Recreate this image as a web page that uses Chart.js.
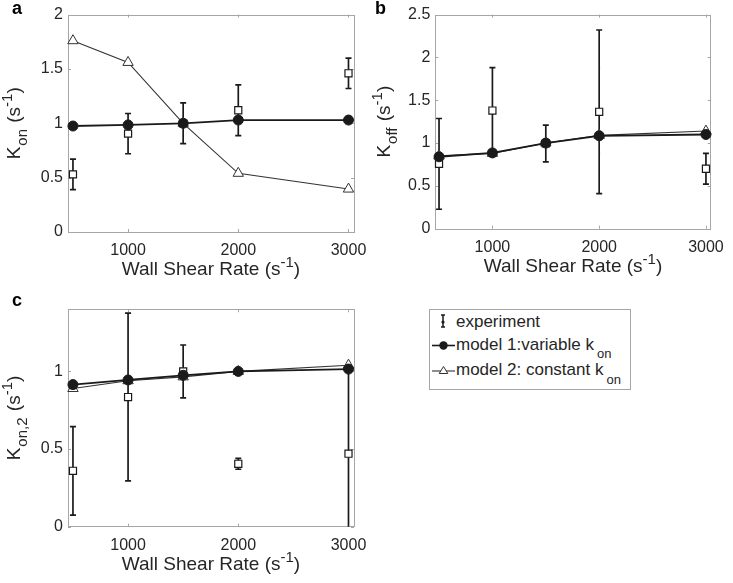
<!DOCTYPE html>
<html>
<head>
<meta charset="utf-8">
<title>Rate constants vs wall shear rate</title>
<script src="https://cdn.jsdelivr.net/npm/chart.js@4.4.1/dist/chart.umd.min.js"></script>
<style>
    html, body { margin: 0; padding: 0; background: #fff; }
    #stage { position: relative; width: 733px; height: 583px; overflow: hidden; }
    #stage canvas { position: absolute; }
    #legend { position: absolute; left: 429px; top: 309px; }
    #legend text { font-family: 'Liberation Sans', Arial, sans-serif; font-size: 17px; fill: #262626; }
</style>
</head>
<body>
<div id="stage">
    <canvas id="panelA" width="380" height="290" style="left:0;top:0"></canvas>
    <canvas id="panelB" width="363" height="290" style="left:370px;top:0"></canvas>
    <canvas id="panelC" width="380" height="293" style="left:0;top:290px"></canvas>

    <!-- legend (shared by all three panels) -->
    <svg id="legend" width="203" height="82">
        <rect x="0.5" y="0.5" width="201" height="80" fill="#fff" stroke="#a6a6a6"/>
        <g stroke="#1a1a1a" stroke-width="1.5" fill="none">
            <line x1="14" y1="6" x2="14" y2="18"/>
            <line x1="12" y1="6" x2="16" y2="6"/>
            <line x1="12" y1="18" x2="16" y2="18"/>
        </g>
        <circle cx="14" cy="13" r="1.6" fill="#1a1a1a"/>
        <text x="27" y="18">experiment</text>

        <line x1="3" y1="36.5" x2="26" y2="36.5" stroke="#1a1a1a" stroke-width="1.6"/>
        <circle cx="14.5" cy="36.5" r="4.2" fill="#1a1a1a"/>
        <text x="27" y="41">model 1:variable k<tspan dx="3" dy="8" style="font-size:13px">on</tspan></text>

        <line x1="3" y1="62" x2="26" y2="62" stroke="#333" stroke-width="1.1"/>
        <polygon points="14.5,57.5 18.8,64.5 10.2,64.5" fill="#fff" stroke="#333" stroke-width="1"/>
        <text x="27" y="66">model 2: constant k<tspan dx="3" dy="9" style="font-size:13px">on</tspan></text>
    </svg>
</div>

<script>
'use strict';

// ============================================================
// Data
// ============================================================

const shearRates = [500, 1000, 1500, 2000, 3000];   // wall shear rate (1/s)
const xTicks = [1000, 2000, 3000];

// (a) K_on
const konExp    = [0.53, 0.905, 1.00, 1.12, 1.46];
const konExpErr = [0.14, 0.185, 0.187, 0.233, 0.14];
const konModel1 = [0.975, 0.985, 1.00, 1.03, 1.03];
const konModel2 = [1.76, 1.56, 1.00, 0.54, 0.395];
const konTicks  = [0, 0.5, 1, 1.5, 2];

// (b) K_off
const koffExp    = [0.757, 1.38, 0.995, 1.365, 0.70];
const koffExpErr = [0.53, 0.50, 0.215, 0.955, 0.18];
const koffModel1 = [0.84, 0.885, 1.00, 1.085, 1.10];
const koffModel2 = [0.85, 0.88, 1.00, 1.09, 1.14];
const koffTicks  = [0, 0.5, 1, 1.5, 2, 2.5];

// (c) K_on,2
const kon2Exp    = [0.36, 0.835, 1.00, 0.405, 0.47];
const kon2ExpErr = [0.285, 0.54, 0.17, 0.035, 0.55];
const kon2Model1 = [0.915, 0.945, 0.975, 1.00, 1.015];
const kon2Model2 = [0.89, 0.94, 0.965, 1.00, 1.04];
const kon2Ticks  = [0, 0.5, 1];

// ============================================================
// Style
// ============================================================

const FONT = "'Liberation Sans', Arial, sans-serif";
const TEXT = '#262626';
const INK = '#1a1a1a';
const FRAME = '#a6a6a6';
const TICK_SIZE = 16;
const TITLE_SIZE = 19;

const xTitle = [['Wall Shear Rate (s'], ['-1', 'sup'], [')']];

// draw a label with sub/superscripts, centred on (x, y) baseline
function drawRich(ctx, parts, x, y, size, angle) {
    ctx.save();
    ctx.translate(x, y);
    ctx.rotate(angle || 0);
    let total = 0;
    const items = parts.map(([t, kind]) => {
        const fs = kind ? Math.round(size * 0.78) : size;
        ctx.font = fs + 'px ' + FONT;
        const w = ctx.measureText(t).width + (kind === 'sub' ? 2 : 0);
        total += w;
        return { t, kind, fs, w };
    });
    let cx = -total / 2;
    ctx.fillStyle = TEXT;
    ctx.textAlign = 'left';
    ctx.textBaseline = 'alphabetic';
    items.forEach(it => {
        ctx.font = it.fs + 'px ' + FONT;
        let dy = 0;
        if (it.kind === 'sub') dy = size * 0.38;
        if (it.kind === 'sup') dy = -size * 0.42;
        ctx.fillText(it.t, cx + (it.kind === 'sub' ? 1 : 0), dy);
        cx += it.w;
    });
    ctx.restore();
}

// frame, inner ticks and error bars behind the markers
const matlabAxesPlugin = {
    id: 'matlabAxes',
    beforeDatasetsDraw(chart) {
        const { ctx, chartArea: a, scales: { x, y } } = chart;
        ctx.save();
        ctx.strokeStyle = FRAME;
        ctx.lineWidth = 1;
        ctx.strokeRect(Math.round(a.left) + 0.5, Math.round(a.top) + 0.5,
            Math.round(a.right - a.left), Math.round(a.bottom - a.top));
        ctx.beginPath();
        x.ticks.forEach(t => {
            const px = Math.round(x.getPixelForValue(t.value)) + 0.5;
            ctx.moveTo(px, a.bottom); ctx.lineTo(px, a.bottom - 3);
            ctx.moveTo(px, a.top); ctx.lineTo(px, a.top + 3);
        });
        y.ticks.forEach(t => {
            const py = Math.round(y.getPixelForValue(t.value)) + 0.5;
            ctx.moveTo(a.left, py); ctx.lineTo(a.left + 3, py);
            ctx.moveTo(a.right, py); ctx.lineTo(a.right - 3, py);
        });
        ctx.stroke();

        // error bars
        ctx.beginPath();
        ctx.rect(a.left, a.top, a.right - a.left, a.bottom - a.top);
        ctx.clip();
        ctx.strokeStyle = INK;
        ctx.lineWidth = 1.7;
        ctx.beginPath();
        chart.data.datasets.forEach(ds => {
            if (!ds.errors) return;
            ds.data.forEach((p, i) => {
                const px = x.getPixelForValue(p.x);
                const top = y.getPixelForValue(p.y + ds.errors[i]);
                const bot = y.getPixelForValue(p.y - ds.errors[i]);
                ctx.moveTo(px, top); ctx.lineTo(px, bot);
                ctx.moveTo(px - 3, top); ctx.lineTo(px + 3, top);
                ctx.moveTo(px - 3, bot); ctx.lineTo(px + 3, bot);
            });
        });
        ctx.stroke();
        ctx.restore();
    },
    afterDraw(chart, args, opts) {
        const { ctx, chartArea: a } = chart;
        drawRich(ctx, xTitle, (a.left + a.right) / 2, a.bottom + 43, TITLE_SIZE, 0);
        drawRich(ctx, opts.yTitle, opts.yTitleX, (a.top + a.bottom) / 2, TITLE_SIZE, -Math.PI / 2);
        ctx.save();
        ctx.font = 'bold 18px ' + FONT;
        ctx.fillStyle = '#000';
        ctx.fillText(opts.label, opts.labelPos[0], opts.labelPos[1]);
        ctx.restore();
    }
};

function points(values) {
    return shearRates.map((x, i) => ({ x: x, y: values[i] }));
}

// plain MATLAB-like tick text: 1000, 0.5, 1
const plainTick = v => String(v);

function makePanel(id, p) {
    return new Chart(document.getElementById(id), {
        type: 'scatter',
        data: {
            datasets: [
                {   // model 1 (drawn on top)
                    data: points(p.model1),
                    showLine: true,
                    borderColor: INK,
                    borderWidth: 1.8,
                    pointStyle: 'circle',
                    pointRadius: 5,
                    pointBackgroundColor: INK,
                    pointBorderColor: INK,
                    pointBorderWidth: 1,
                    clip: false
                },
                {   // model 2
                    data: points(p.model2),
                    showLine: true,
                    borderColor: '#333',
                    borderWidth: 1.1,
                    pointStyle: 'triangle',
                    pointRadius: 6,
                    pointBackgroundColor: '#fff',
                    pointBorderColor: '#333',
                    pointBorderWidth: 1,
                    clip: false
                },
                {   // experiment
                    data: points(p.exp),
                    errors: p.err,
                    showLine: false,
                    pointStyle: 'rect',
                    pointRadius: 5,
                    pointBackgroundColor: '#fff',
                    pointBorderColor: INK,
                    pointBorderWidth: 1.2,
                    clip: false
                }
            ]
        },
        options: {
            responsive: false,
            animation: false,
            layout: { padding: { top: p.padTop, right: p.padRight, left: 0, bottom: 0 } },
            plugins: {
                legend: { display: false },
                tooltip: { enabled: false },
                matlabAxes: { yTitle: p.yTitle, yTitleX: p.yTitleX, label: p.label, labelPos: p.labelPos }
            },
            scales: {
                x: {
                    type: 'linear',
                    min: p.xMin,
                    max: p.xMax,
                    afterBuildTicks: s => { s.ticks = xTicks.map(v => ({ value: v })); },
                    afterFit: s => { s.height = p.xAxisHeight; },
                    grid: { display: false, drawTicks: false },
                    border: { display: false },
                    ticks: { padding: 9, color: TEXT, font: { family: FONT, size: TICK_SIZE }, callback: plainTick }
                },
                y: {
                    min: p.yTicks[0],
                    max: p.yMax,
                    afterBuildTicks: s => { s.ticks = p.yTicks.map(v => ({ value: v })); },
                    afterFit: s => { s.width = p.yAxisWidth; },
                    grid: { display: false, drawTicks: false },
                    border: { display: false },
                    ticks: { padding: 5, color: TEXT, font: { family: FONT, size: TICK_SIZE }, callback: plainTick }
                }
            }
        },
        plugins: [matlabAxesPlugin]
    });
}

makePanel('panelA', {
    exp: konExp, err: konExpErr, model1: konModel1, model2: konModel2,
    yTicks: konTicks, yMax: 2,
    xMin: 455, xMax: 3050,
    padTop: 14, padRight: 26, yAxisWidth: 68, xAxisHeight: 58,
    yTitle: [['K'], ['on', 'sub'], [' (s'], ['-1', 'sup'], [')']], yTitleX: 20,
    label: 'a', labelPos: [12, 14]
});

makePanel('panelB', {
    exp: koffExp, err: koffExpErr, model1: koffModel1, model2: koffModel2,
    yTicks: koffTicks, yMax: 2.5,
    xMin: 465, xMax: 3045,
    padTop: 14, padRight: 14.7, yAxisWidth: 65.3, xAxisHeight: 61.3,
    yTitle: [['K'], ['off', 'sub'], [' (s'], ['-1', 'sup'], [')']], yTitleX: 20,
    label: 'b', labelPos: [5, 14]
});

makePanel('panelC', {
    exp: kon2Exp, err: kon2ExpErr, model1: kon2Model1, model2: kon2Model2,
    yTicks: kon2Ticks, yMax: 1.4,
    xMin: 455, xMax: 3050,
    padTop: 19.3, padRight: 26, yAxisWidth: 68, xAxisHeight: 56.3,
    yTitle: [['K'], ['on,2', 'sub'], [' (s'], ['-1', 'sup'], [')']], yTitleX: 20,
    label: 'c', labelPos: [12, 16]
});
</script>
</body>
</html>
